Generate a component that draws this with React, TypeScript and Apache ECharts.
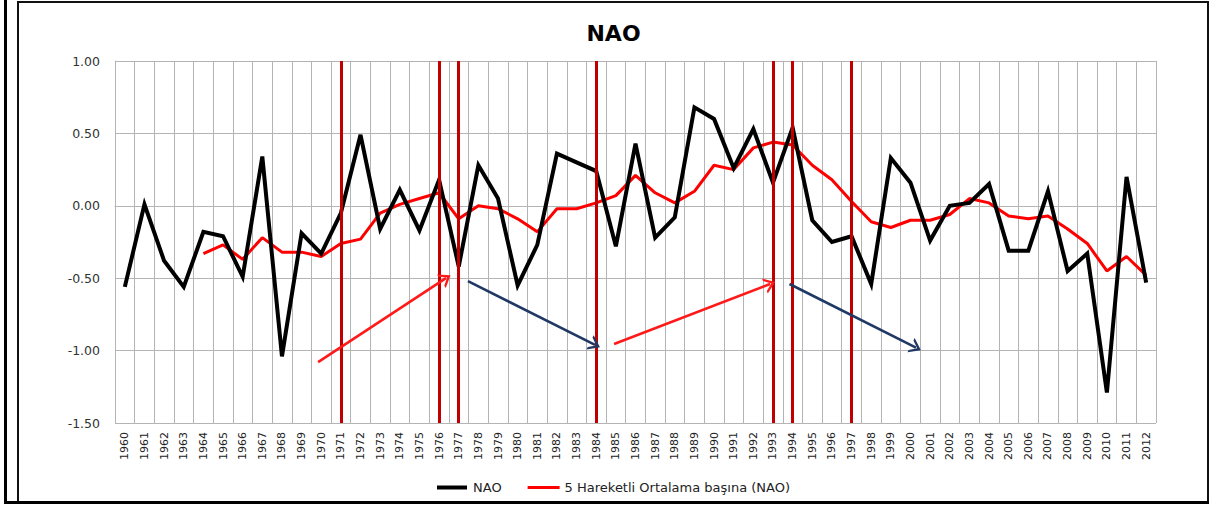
import React, { useEffect, useRef } from "react";
import * as echarts from "echarts";

const YEARS = [
  "1960", "1961", "1962", "1963", "1964", "1965", "1966", "1967", "1968", "1969",
  "1970", "1971", "1972", "1973", "1974", "1975", "1976", "1977", "1978", "1979",
  "1980", "1981", "1982", "1983", "1984", "1985", "1986", "1987", "1988", "1989",
  "1990", "1991", "1992", "1993", "1994", "1995", "1996", "1997", "1998", "1999",
  "2000", "2001", "2002", "2003", "2004", "2005", "2006", "2007", "2008", "2009",
  "2010", "2011", "2012",
];

const NAO = [
  -0.56, 0.01, -0.38, -0.56, -0.18, -0.21, -0.49, 0.34, -1.04, -0.19,
  -0.33, -0.05, 0.49, -0.16, 0.11, -0.17, 0.18, -0.42, 0.28, 0.05,
  -0.55, -0.27, 0.36, 0.3, 0.24, -0.28, 0.43, -0.22, -0.08, 0.68,
  0.6, 0.26, 0.53, 0.16, 0.54, -0.1, -0.25, -0.21, -0.54, 0.33,
  0.16, -0.24, 0.0, 0.02, 0.15, -0.31, -0.31, 0.1, -0.45, -0.33,
  -1.29, 0.2, -0.53,
];

const MOVING_AVG = [
  null, null, null, null, -0.33, -0.27, -0.37, -0.22, -0.32, -0.32,
  -0.35, -0.26, -0.23, -0.05, 0.01, 0.05, 0.09, -0.09, 0.0, -0.02,
  -0.09, -0.18, -0.02, -0.02, 0.02, 0.07, 0.21, 0.09, 0.02, 0.1,
  0.28, 0.25, 0.4, 0.44, 0.42, 0.28, 0.18, 0.03, -0.11, -0.15,
  -0.1, -0.1, -0.06, 0.05, 0.02, -0.07, -0.09, -0.07, -0.16, -0.26,
  -0.45, -0.35, -0.48,
];

const EVENT_YEARS = ["1971", "1976", "1977", "1984", "1993", "1994", "1997"];

// arrows in [year position, NAO value]
const UP_ARROWS = [
  { from: [1969.84, -1.08], to: [1976.35, -0.5] },
  { from: [1984.91, -0.955], to: [1992.85, -0.54] },
];
const DOWN_ARROWS = [
  { from: [1977.47, -0.52], to: [1983.94, -0.96] },
  { from: [1993.84, -0.54], to: [2000.28, -0.98] },
];

const SERIES_NAMES = ["NAO", "5 Hareketli Ortalama başına (NAO)"];

const FONT = "DejaVu Sans";
const GRID_COLOR = "#B4B4B4";
const CHEVRON = "path://M8,0 L16,9 L13.3,9 L8,3.4 L2.7,9 L0,9 Z";

export default function App() {
  const ref = useRef<HTMLDivElement>(null);

  useEffect(() => {
    if (!ref.current) return;
    const chart = echarts.init(ref.current, null, { renderer: "svg" });

    const arrowSeries = (name: string, items: any[], color: string) => ({
      name,
      type: "lines",
      coordinateSystem: "cartesian2d",
      xAxisIndex: 1,
      yAxisIndex: 0,
      silent: true,
      z: 5,
      symbol: ["none", CHEVRON],
      symbolSize: [0, [16, 11]],
      lineStyle: { color, width: 2.6, opacity: 1 },
      data: items.map((a) => ({ coords: [a.from, a.to] })),
    });

    chart.setOption({
      animation: false,
      backgroundColor: "#ffffff",
      textStyle: { fontFamily: FONT },
      title: {
        text: "NAO",
        left: "center",
        top: 17,
        textStyle: { fontFamily: FONT, fontSize: 22, fontWeight: "bold", color: "#000" },
      },
      legend: {
        data: [
          { name: SERIES_NAMES[0], icon: "path://M0,0 H30 V4 H0 Z", itemStyle: { color: "#000" } },
          { name: SERIES_NAMES[1], icon: "path://M0,0 H30 V3 H0 Z", itemStyle: { color: "#FF0000" } },
        ],
        left: "center",
        top: 476,
        itemWidth: 32,
        itemHeight: 4,
        itemGap: 26,
        textStyle: { fontFamily: FONT, fontSize: 13, color: "#222" },
      },
      grid: { left: 115, right: 71, top: 61, bottom: 83 },
      xAxis: [
        {
          type: "category",
          data: YEARS,
          boundaryGap: true,
          axisLine: { show: true, lineStyle: { color: GRID_COLOR, width: 1 } },
          axisTick: { show: false },
          axisLabel: {
            interval: 0,
            rotate: 90,
            margin: 9,
            fontFamily: FONT,
            fontSize: 11,
            color: "#222",
          },
          splitLine: { show: true, interval: 0, lineStyle: { color: GRID_COLOR, width: 1 } },
        },
        {
          type: "value",
          min: 1959.5,
          max: 2012.5,
          show: false,
          splitLine: { show: false },
        },
      ],
      yAxis: {
        type: "value",
        min: -1.5,
        max: 1,
        interval: 0.5,
        axisLine: { show: true, lineStyle: { color: GRID_COLOR, width: 1 } },
        axisTick: { show: false },
        axisLabel: {
          margin: 15,
          fontFamily: FONT,
          fontSize: 12.5,
          color: "#333",
          formatter: (v: number) => v.toFixed(2),
        },
        splitLine: { show: true, lineStyle: { color: GRID_COLOR, width: 1 } },
      },
      series: [
        {
          name: SERIES_NAMES[0],
          type: "line",
          data: NAO,
          symbol: "none",
          showSymbol: false,
          z: 4,
          lineStyle: { color: "#000000", width: 4, join: "miter" },
          itemStyle: { color: "#000000" },
          markLine: {
            silent: true,
            symbol: ["none", "none"],
            label: { show: false },
            lineStyle: { color: "#C00000", width: 3, type: "solid" },
            data: EVENT_YEARS.map((y) => ({ xAxis: y })),
          },
        },
        {
          name: SERIES_NAMES[1],
          type: "line",
          data: MOVING_AVG,
          symbol: "none",
          showSymbol: false,
          z: 3,
          lineStyle: { color: "#FF0000", width: 3 },
          itemStyle: { color: "#FF0000" },
        },
        arrowSeries("upArrows", UP_ARROWS, "#FF1A1A"),
        arrowSeries("downArrows", DOWN_ARROWS, "#1F3864"),
      ],
      graphic: [
        { type: "rect", silent: true, shape: { x: 4, y: 0, width: 3, height: 504 }, style: { fill: "#000" } },
        {
          type: "rect",
          silent: true,
          shape: { x: 18, y: 2, width: 1190, height: 500 },
          style: { fill: "none", stroke: "#111", lineWidth: 2 },
        },
        { type: "rect", silent: true, shape: { x: 4, y: 501, width: 1205, height: 3 }, style: { fill: "#000" } },
      ],
    });

    return () => chart.dispose();
  }, []);

  return (
    <div
      ref={ref}
      style={{ position: "fixed", left: 0, top: 0, width: 1227, height: 506, background: "#fff" }}
    />
  );
}
